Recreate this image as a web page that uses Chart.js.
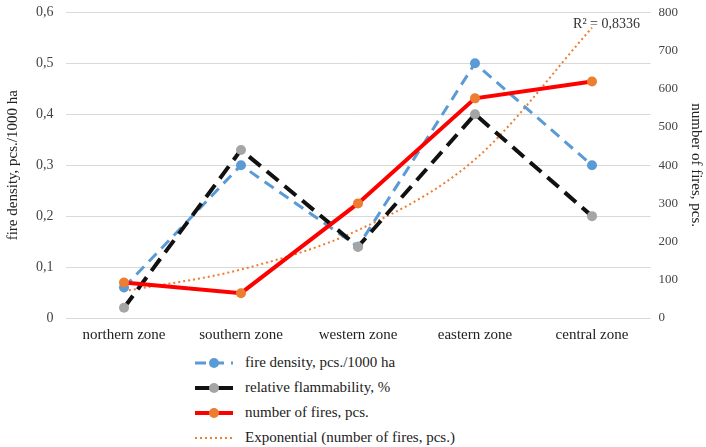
<!DOCTYPE html>
<html>
<head>
<meta charset="utf-8">
<script src="https://cdn.jsdelivr.net/npm/chart.js@4"></script>
<style>
  body { margin:0; background:#fff; font-family:"Liberation Serif", "Times New Roman", "DejaVu Serif", serif; overflow:hidden; }
  #wrap { position:relative; width:706px; height:352px; margin-top:-8px; }
  #legend { margin:6px 0 0 195px; font-size:15px; color:#222; }
  .lg-row { display:flex; align-items:center; height:25px; }
  .lg-row svg { margin-right:12px; }
</style>
</head>
<body>
<div id="wrap"><canvas id="chart"></canvas></div>
<div id="legend"></div>
<script>
// chart data
const zones = ["northern zone", "southern zone", "western zone", "eastern zone", "central zone"];
const fireDensity = [0.06, 0.30, 0.14, 0.50, 0.30];
const flammability = [0.02, 0.33, 0.14, 0.40, 0.20];
const fireCount = [93, 65, 300, 575, 619];
const fireTrend = [70, 127, 230, 415, 760];
const rSquared = "R² = 0,8336";

const ctx = document.getElementById("chart").getContext("2d");
const serif = "'Liberation Serif', 'Times New Roman', 'DejaVu Serif', serif";

function commaTick(v){ return v === 0 ? "0" : v.toFixed(1).replace(".", ","); }

// R² label next to the trend line end
const r2Label = {
  id: "r2Label",
  afterDatasetsDraw(chart){
    const x = chart.scales.x.getPixelForValue(4) + 48;
    const y = chart.scales.y1.getPixelForValue(800) + 12;
    const c = chart.ctx;
    c.save();
    c.font = "14px " + serif;
    c.fillStyle = "#333";
    c.textAlign = "right";
    c.textBaseline = "middle";
    c.fillText(rSquared, x, y);
    c.restore();
  }
};

const chart = new Chart(ctx, {
  type: "line",
  data: {
    labels: zones,
    datasets: [
      { label: "fire density, pcs./1000 ha", data: fireDensity, yAxisID: "y",
        borderColor: "#5B9BD5", backgroundColor: "#5B9BD5", borderWidth: 3, borderDash: [11, 7],
        pointRadius: 5, pointBackgroundColor: "#5B9BD5", pointBorderWidth: 0, order: 3 },
      { label: "relative flammability, %", data: flammability, yAxisID: "y",
        borderColor: "#111", backgroundColor: "#A5A5A5", borderWidth: 4, borderDash: [15, 8],
        pointRadius: 5, pointBackgroundColor: "#A5A5A5", pointBorderWidth: 0, order: 2 },
      { label: "number of fires, pcs.", data: fireCount, yAxisID: "y1",
        borderColor: "#FF0000", backgroundColor: "#ED7D31", borderWidth: 4,
        pointRadius: 5, pointBackgroundColor: "#ED7D31", pointBorderWidth: 0, order: 1 },
      { label: "Exponential (number of fires, pcs.)", data: fireTrend, yAxisID: "y1",
        borderColor: "#ED7D31", borderWidth: 2, borderDash: [2, 3], cubicInterpolationMode: "monotone",
        pointRadius: 0, order: 4 }
    ]
  },
  options: {
    responsive: true, maintainAspectRatio: false, animation: false,
    layout: { padding: { top: 0, right: 0, left: 2, bottom: 0 } },
    plugins: { legend: { display: false }, tooltip: { enabled: false } },
    scales: {
      x: {
        offset: true,
        grid: { display: false, offset: true }, border: { display: false },
        ticks: { color: "#222", font: { family: serif, size: 15 }, padding: 0 }
      },
      y: {
        position: "left", min: 0, max: 0.6,
        grid: { color: "#d9d9d9", drawTicks: false }, border: { display: false },
        ticks: { stepSize: 0.1, color: "#444", font: { family: serif, size: 14 }, padding: 12, callback: commaTick },
        title: { display: true, text: "fire density, pcs./1000 ha", color: "#222", font: { family: serif, size: 15 }, padding: 2 }
      },
      y1: {
        position: "right", min: 0, max: 800,
        grid: { drawOnChartArea: false, display: false, drawTicks: false }, border: { display: false },
        ticks: { stepSize: 100, color: "#444", font: { family: serif, size: 13 }, padding: 8 },
        title: { display: true, text: "number of fires, pcs.", color: "#222", font: { family: serif, size: 15 }, padding: 1 }
      }
    }
  },
  plugins: [r2Label]
});

// html legend, one entry per row
const legendEl = document.getElementById("legend");
chart.data.datasets.forEach(ds => {
  const row = document.createElement("div");
  row.className = "lg-row";
  const dash = ds.borderDash ? ds.borderDash.join(",") : "none";
  const marker = ds.pointRadius ? `<circle cx="19" cy="6" r="5" fill="${ds.pointBackgroundColor}"/>` : "";
  row.innerHTML = `<svg width="38" height="12"><line x1="0" y1="6" x2="38" y2="6" stroke="${ds.borderColor}" stroke-width="${ds.borderWidth}" stroke-dasharray="${dash}"/>${marker}</svg><span>${ds.label}</span>`;
  legendEl.appendChild(row);
});
</script>
</body>
</html>
